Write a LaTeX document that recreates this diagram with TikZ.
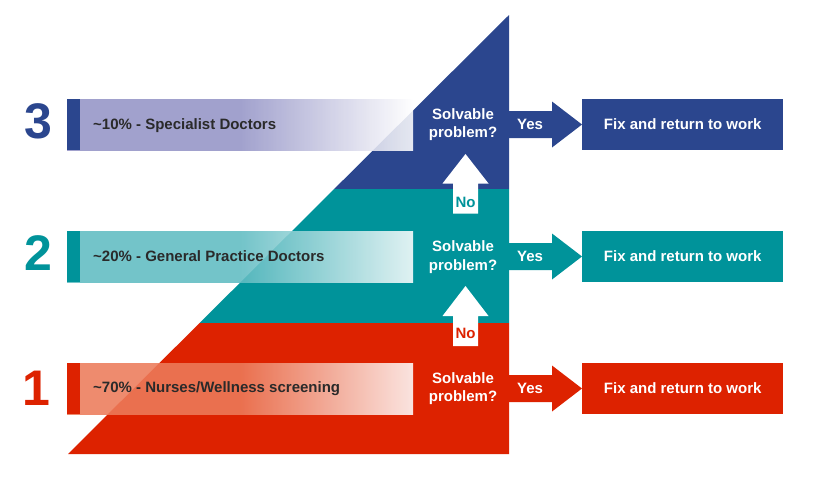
\documentclass[tikz,border=0pt]{standalone}
\usepackage{fontspec}
\setmainfont{Liberation Sans}
\usetikzlibrary{calc}
\definecolor{cblue}{HTML}{2B468E}
\definecolor{cteal}{HTML}{00939A}
\definecolor{cred}{HTML}{DD2200}
\definecolor{ctext}{HTML}{2A2A2A}
\definecolor{lblue}{HTML}{9595C7}
\definecolor{lteal}{HTML}{60BCC2}
\definecolor{lred}{HTML}{EC7B5A}
\pgfdeclarehorizontalshading{barblue}{100bp}{color(0bp)=(lblue); color(25bp)=(lblue); color(50bp)=(lblue); color(75bp)=(white); color(100bp)=(white)}
\pgfdeclarehorizontalshading{barteal}{100bp}{color(0bp)=(lteal); color(25bp)=(lteal); color(50bp)=(lteal); color(75bp)=(white); color(100bp)=(white)}
\pgfdeclarehorizontalshading{barred}{100bp}{color(0bp)=(lred); color(25bp)=(lred); color(50bp)=(lred); color(75bp)=(white); color(100bp)=(white)}
\begin{document}
\begin{tikzpicture}[x=1pt,y=-1pt,
  barbox/.style={minimum width=346, minimum height=51, inner sep=0, anchor=west,
    shading=#1, fill opacity=0.88, draw=none},
  bartext/.style={anchor=west, inner sep=0, text=ctext, font=\bfseries\fontsize{15}{18}\selectfont},
  bignum/.style={text=#1, font=\bfseries\fontsize{50}{52}\selectfont, inner sep=0},
  solv/.style={text=white, align=center, inner sep=0, font=\bfseries\fontsize{15}{18.5}\selectfont},
  fixbox/.style={fill=#1, minimum width=201, minimum height=51, inner sep=0, anchor=west,
    text=white, font=\bfseries\fontsize{15}{18}\selectfont},
  yestext/.style={text=white, inner sep=0, font=\bfseries\fontsize{15}{18}\selectfont},
  notext/.style={text=#1, inner sep=0, font=\bfseries\fontsize{15}{18}\selectfont},
  uparrow/.style={fill=white, draw=none}
]
\useasboundingbox (0,0) rectangle (816,490);
\fill[white] (0,0) rectangle (816,490);

% pyramid bands
\coordinate (top) at (509,15);
\coordinate (bl) at (68,454);
\coordinate (br) at (509,454);
\fill[cblue] (top) -- (509,189) -- (334.2,189) -- cycle;
\fill[cteal] (334.2,189) -- (509,189) -- (509,323) -- (199.6,323) -- cycle;
\fill[cred] (199.6,323) -- (509,323) -- (br) -- (bl) -- cycle;

% label bars
\node[barbox=barblue] (bar3) at (67,124.5) {};
\node[barbox=barteal] (bar2) at (67,256.5) {};
\node[barbox=barred]  (bar1) at (67,388.5) {};
\fill[cblue] (bar3.north west) rectangle ($(bar3.south west)+(13,0)$);
\fill[cteal] (bar2.north west) rectangle ($(bar2.south west)+(13,0)$);
\fill[cred]  (bar1.north west) rectangle ($(bar1.south west)+(13,0)$);
\node[bartext] (t3) at ($(bar3.west)+(26,1)$) {\textasciitilde10\% - Specialist Doctors};
\node[bartext] (t2) at ($(bar2.west)+(26,0)$) {\textasciitilde20\% - General Practice Doctors};
\node[bartext] (t1) at ($(bar1.west)+(26,0)$) {\textasciitilde70\% - Nurses/Wellness screening};

% big numbers
\node[bignum=cblue] (n3) at (38.5,121.5) {3};
\node[bignum=cteal] (n2) at (38.5,253) {2};
\node[bignum=cred]  (n1) at (36,388) {1};

% solvable questions
\node[solv] (s3) at (463,124.5) {Solvable\\problem?};
\node[solv] (s2) at (463,257) {Solvable\\problem?};
\node[solv] (s1) at (463,388.5) {Solvable\\problem?};

% fix boxes
\node[fixbox=cblue] (f3) at (582,124.5) {Fix and return to work};
\node[fixbox=cteal] (f2) at (582,256.5) {Fix and return to work};
\node[fixbox=cred]  (f1) at (582,388.5) {Fix and return to work};

% yes arrows
\foreach \f/\c in {f3/cblue,f2/cteal,f1/cred}{
  \fill[\c] ($(\f.west)+(-73,-13.5)$) -- ($(\f.west)+(-30,-13.5)$) -- ($(\f.west)+(-30,-23)$)
    -- (\f.west) -- ($(\f.west)+(-30,23)$) -- ($(\f.west)+(-30,13.5)$) -- ($(\f.west)+(-73,13.5)$) -- cycle;
}
\node[yestext] (y3) at ($(f3.west)+(-52,0)$) {Yes};
\node[yestext] (y2) at ($(f2.west)+(-52,0)$) {Yes};
\node[yestext] (y1) at ($(f1.west)+(-52,0)$) {Yes};

% no arrows
\coordinate (a3) at (465.5,154);
\coordinate (a2) at (465.5,286);
\fill[uparrow] (a3) -- ++(23,29.5) -- ++(-10.5,0) -- ++(0,30) -- ++(-25,0) -- ++(0,-30) -- ++(-10.5,0) -- cycle;
\fill[uparrow] (a2) -- ++(23,30) -- ++(-10.5,0) -- ++(0,30) -- ++(-25,0) -- ++(0,-30) -- ++(-10.5,0) -- cycle;
\node[notext=cteal] (no3) at ($(a3)+(0,48)$) {No};
\node[notext=cred]  (no2) at ($(a2)+(0,47)$) {No};
\end{tikzpicture}
\end{document}
